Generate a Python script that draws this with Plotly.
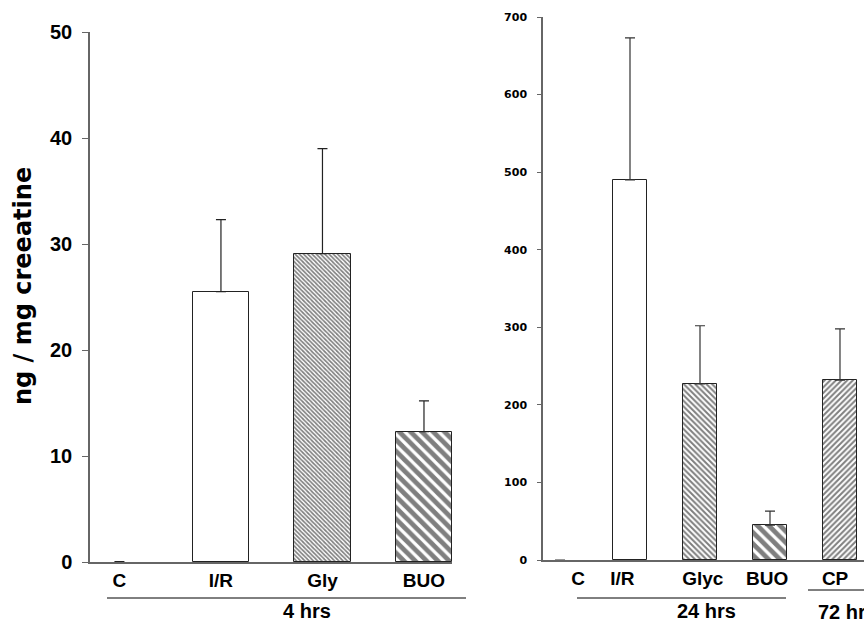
import plotly.graph_objects as go

W, H = 864, 622

# ---- data ----
left_cats = ["C", "I/R", "Gly", "BUO"]
left_vals = [0.0, 25.5, 29.1, 12.3]
left_err = [0.03, 6.8, 9.9, 2.9]

right_cats = ["C", "I/R", "Glyc", "BUO", "CP"]
right_vals = [0.0, 490, 227, 45, 232]
right_err = [None, 183, 75, 18, 66]
right_label_pos = [0.26, 0.89, 2.04, 2.96, 3.93]

left_ticks = [0, 10, 20, 30, 40, 50]
right_ticks = [0, 100, 200, 300, 400, 500, 600, 700]

FONT = "Liberation Sans, Arial, sans-serif"
WIDE = "DejaVu Sans, sans-serif"


def px(x):
    return x / W


def py(y):
    return (H - y) / H


# pattern styles per bar
left_shapes = ["", "", "\\", "\\"]
left_sizes = [8, 8, 3, 8]
left_solid = [0.3, 0.3, 0.55, 0.6]
left_linew = [0, 1, 1, 1]

right_shapes = ["", "", "\\", "\\", "/"]
right_sizes = [8, 8, 4, 8, 4]
right_solid = [0.3, 0.3, 0.5, 0.6, 0.5]
right_linew = [0, 1, 1, 1, 1]

fig = go.Figure()

fig.add_trace(go.Bar(
    x=list(range(len(left_cats))), y=left_vals, width=0.56,
    marker=dict(color="white", line=dict(color="#222", width=left_linew),
                pattern=dict(shape=left_shapes, size=left_sizes, solidity=left_solid,
                             fgcolor="#000", bgcolor="#fff", fillmode="overlay")),
    error_y=dict(type="data", symmetric=False, array=left_err,
                 arrayminus=[0] * len(left_err), color="#222", thickness=1.2, width=5),
    xaxis="x", yaxis="y", showlegend=False,
))

fig.add_trace(go.Bar(
    x=list(range(len(right_cats))), y=right_vals, width=0.49,
    marker=dict(color="white", line=dict(color="#222", width=right_linew),
                pattern=dict(shape=right_shapes, size=right_sizes, solidity=right_solid,
                             fgcolor="#000", bgcolor="#fff", fillmode="overlay")),
    error_y=dict(type="data", symmetric=False, array=right_err,
                 arrayminus=[0] * len(right_err), color="#333", thickness=1.2, width=5),
    xaxis="x2", yaxis="y2", showlegend=False,
))

axis_common = dict(showgrid=False, zeroline=False, showline=True, linecolor="#666", linewidth=1.5)

fig.update_layout(
    width=W, height=H,
    margin=dict(l=0, r=0, t=0, b=0, autoexpand=False),
    paper_bgcolor="white", plot_bgcolor="white",
    font=dict(family=FONT, color="#000"),
    bargap=0,
    xaxis=dict(domain=[px(90), px(452)], range=[-0.29, 3.276],
               tickvals=list(range(len(left_cats))), ticktext=left_cats,
               ticks="", tickfont=dict(size=19, family=FONT, weight="bold"),
               automargin=False, anchor="y", **axis_common),
    yaxis=dict(domain=[py(562), py(32)], range=[0, 50], tickvals=left_ticks,
               ticks="outside", ticklen=6, tickcolor="#666", ticklabelstandoff=6,
               tickfont=dict(size=20, family=FONT, weight="bold"),
               automargin=False, anchor="x", **axis_common),
    xaxis2=dict(domain=[px(543), 1.0], range=[-0.243, 4.343],
                tickvals=right_label_pos, ticktext=right_cats,
                ticks="", tickfont=dict(size=19, family=FONT, weight="bold"),
                automargin=False, anchor="y2", **axis_common),
    yaxis2=dict(domain=[py(560), py(17)], range=[0, 700], tickvals=right_ticks,
                ticks="outside", ticklen=4, tickcolor="#666", ticklabelstandoff=8,
                tickfont=dict(size=11, family=WIDE, weight="bold"),
                automargin=False, anchor="x2", **axis_common),
)

# group lines
lines = [(107, 466, 598), (577, 786, 598), (808, 870, 590)]
for x0, x1, y in lines:
    fig.add_shape(type="line", xref="paper", yref="paper",
                  x0=px(x0), x1=px(x1), y0=py(y), y1=py(y),
                  line=dict(color="#000", width=1))

ann = [
    ("4 hrs", 307, 611, "center"),
    ("24 hrs", 706, 611, "center"),
    ("72 hrs", 816, 612, "left"),
]
for t, x, y, anc in ann:
    fig.add_annotation(text=t, xref="paper", yref="paper", x=px(x), y=py(y),
                       xanchor=anc, yanchor="middle", showarrow=False,
                       font=dict(size=20, family=FONT, weight="bold"))

fig.add_annotation(text="ng / mg creeatine", xref="paper", yref="paper",
                   x=px(23), y=py(286), textangle=-90, showarrow=False,
                   xanchor="center", yanchor="middle",
                   font=dict(size=24, family=WIDE, weight="bold"))

fig.write_html("out.html",
               config=dict(displayModeBar=False),
               post_script="document.body.style.margin='0';document.body.style.overflow='hidden';")
